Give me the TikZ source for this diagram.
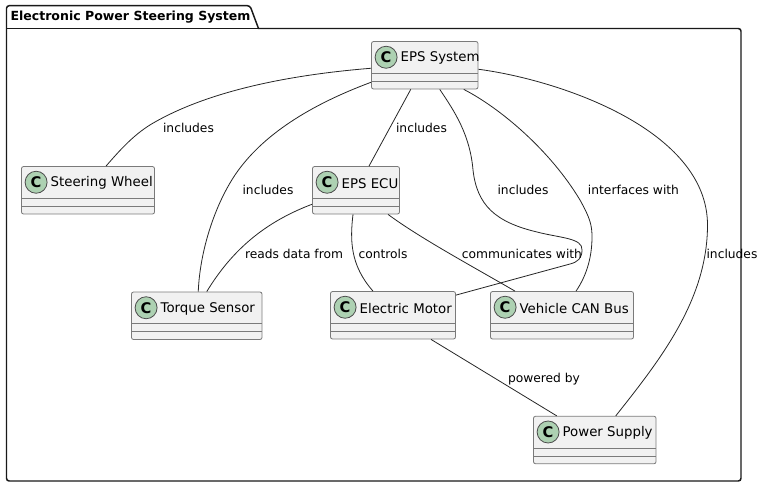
\documentclass[tikz,border=0pt]{standalone}
\usepackage{fontspec}
\setmainfont{DejaVu Sans}
\usepackage{tikz}
\usetikzlibrary{positioning}

\definecolor{classfill}{HTML}{F1F1F1}
\definecolor{classline}{HTML}{7A7A7A}
\definecolor{circlefill}{HTML}{ADD1B2}

\begin{document}
\begin{tikzpicture}[x=0.75pt, y=-0.75pt, thick,
  main node/.style={rectangle, draw=classline, fill=classfill, line width=0.6pt,
    rounded corners=1.5pt, inner sep=0pt, minimum height=35.6pt},
  class line/.style={draw=classline, line width=0.6pt},
  class icon/.style={circle, draw=black!70, fill=circlefill, line width=0.6pt,
    inner sep=0pt, minimum size=16.5pt, font=\bfseries\fontsize{11}{11}\selectfont},
  class name/.style={inner sep=0pt, anchor=west, font=\fontsize{10}{12}\selectfont},
  link/.style={line width=0.6pt, black!85},
  link label/.style={inner sep=0pt, font=\fontsize{9.2}{11}\selectfont}]

\useasboundingbox (0,0) rectangle (765,486);

% package frame
\draw[line width=1.1pt, black!90, rounded corners=2pt]
  (6.5,28.5) -- (6.5,5.7) -- (250,5.7) [sharp corners] -- (258.5,28.5) [rounded corners=2pt] -- (741,28.5) -- (741,481) -- (6.5,481) -- cycle;
\draw[line width=1.1pt, black!90] (6.5,28.5) -- (258.5,28.5);
\node[inner sep=0pt, anchor=west, font=\bfseries\fontsize{9.4}{12}\selectfont] (P0) at (10,17) {Electronic Power Steering System};

% classes
\foreach \name/\x/\y/\w/\txt in {
  S/424.75/65.25/106.5/EPS System,
  W/88/190.25/133/Steering Wheel,
  E/356/190.25/87/EPS ECU,
  T/196.75/315.75/130.5/Torque Sensor,
  M/393/315.25/125/Electric Motor,
  B/562/315.25/143/Vehicle CAN Bus,
  P/594.75/440/122.5/Power Supply}
{
  \node[main node, minimum width=\w*0.75pt] (\name) at (\x,\y) {};
  \draw[class line] ([shift={(0,8)}]\name.west) -- ([shift={(0,8)}]\name.east);
  \draw[class line] ([shift={(0,16)}]\name.west) -- ([shift={(0,16)}]\name.east);
  \node[class icon] (\name c) at ([shift={(15,-8)}]\name.west) {C};
  \node[class name] (\name t) at ([shift={(29,-7)}]\name.west) {\txt};
}

% connectors
\path[link]
(S.west) ++(0,3) coordinate (s1)
(S.west) ++(0,17) coordinate (s2)
(S.south) ++(-14,0) coordinate (s3)
(S.south) ++(15,0) coordinate (s4)
(S.south) ++(39,0) coordinate (s5)
(S.east) ++(0,4) coordinate (s6)
(W.north) ++(18,0) coordinate (w1)
(T.north) ++(1.5,0) coordinate (t1)
(T.north) ++(10,0) coordinate (t2)
(E.north) ++(13,0) coordinate (e1)
(E.west) ++(0,14) coordinate (e2)
(E.south) ++(-3,0) coordinate (e3)
(E.south) ++(32,0) coordinate (e4)
(M.north east) ++(0,4) coordinate (m1)
(M.north) ++(-20,0) coordinate (m2)
(M.south) ++(38,0) coordinate (m3)
(B.north) ++(14,0) coordinate (b1)
(B.north) ++(-47,0) coordinate (b2)
(P.north) ++(21,0) coordinate (p1)
(P.north) ++(-38,0) coordinate (p2);

\draw[link] (s1) .. controls (300,74) and (215,88) .. (155,122) .. controls (135,133) and (120,150) .. (w1);
\draw[link] (s2) .. controls (310,105) and (262,135) .. (235,175) .. controls (215,205) and (200,250) .. (t1);
\draw[link] (s3) -- (e1);
\draw[link] (s4) .. controls (455,112) and (470,135) .. (473,170) .. controls (477,205) and (495,222) .. (537,232)
  .. controls (560,238) and (583,238) .. (582,250) .. controls (582,258) and (578,262) .. (570,264) -- (m1);
\draw[link] (s5) .. controls (500,108) and (550,150) .. (580,200) .. controls (590,218) and (592,225) .. (592,237)
  .. controls (592,260) and (585,278) .. (b1);
\draw[link] (s6) .. controls (560,80) and (707.5,130) .. (707.5,225) .. controls (707.5,300) and (660,360) .. (p1);
\draw[link] (e2) .. controls (265,222) and (232,250) .. (t2);
\draw[link] (e3) .. controls (350,240) and (350,265) .. (m2);
\draw[link] (e4) .. controls (420,238) and (470,265) .. (b2);
\draw[link] (m3) -- (p2);

% link labels
\node[link label] (L1) at (188.5,128) {includes};
\node[link label] (L2) at (268,190) {includes};
\node[link label] (L3) at (421.5,128) {includes};
\node[link label] (L4) at (523,190) {includes};
\node[link label] (L5) at (633.5,190) {interfaces with};
\node[link label] (L6) at (294,254) {reads data from};
\node[link label] (L7) at (383,254) {controls};
\node[link label] (L8) at (522,254) {communicates with};
\node[link label] (L9) at (732,254) {includes};
\node[link label] (L10) at (544,379) {powered by};

\end{tikzpicture}
\end{document}
